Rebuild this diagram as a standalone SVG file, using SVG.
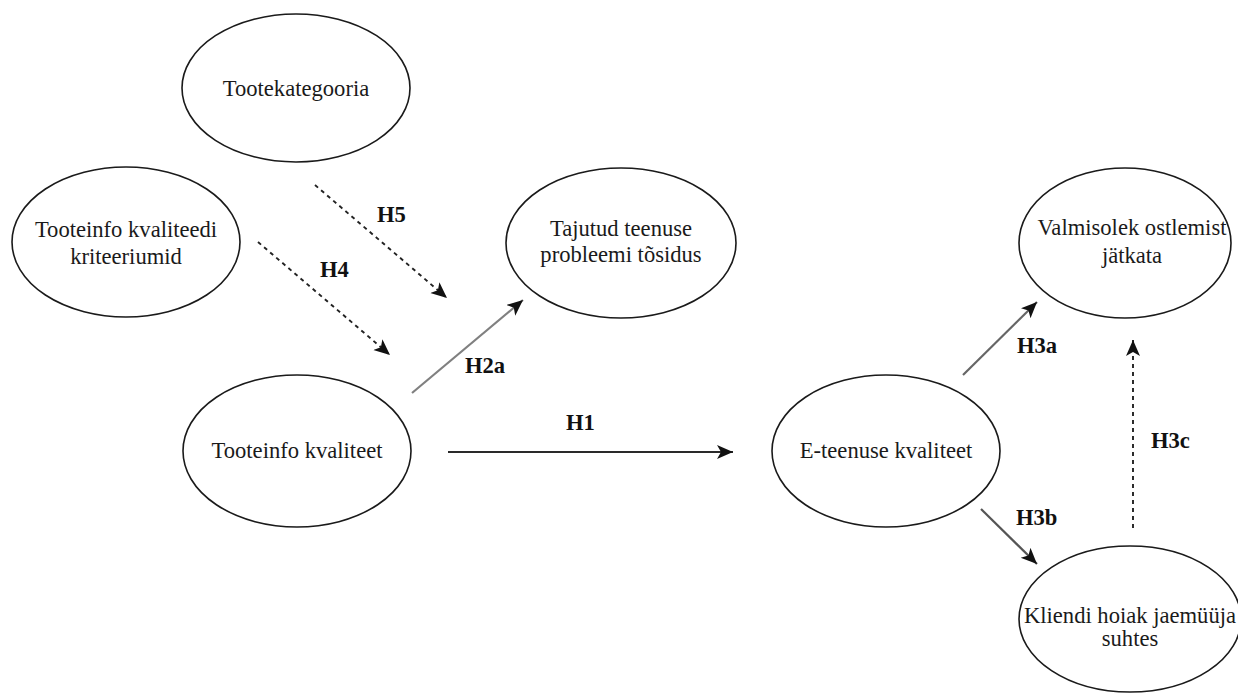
<svg xmlns="http://www.w3.org/2000/svg" width="1238" height="693" viewBox="0 0 1238 693">
<style>
.node ellipse{fill:#fff;stroke:#1a1a1a;stroke-width:1.6}
.node text{font-family:"Liberation Serif","Times New Roman",serif;font-size:22.6px;fill:#1a1a1a;text-anchor:middle}
.lbl{font-family:"Liberation Serif","Times New Roman",serif;font-size:22.6px;font-weight:bold;fill:#111}
.solid{fill:none;stroke-width:2.2}
.dash{fill:none;stroke:#222;stroke-width:1.9;stroke-dasharray:4 4}
</style>
<defs>
<marker id="arr" markerUnits="userSpaceOnUse" markerWidth="18" markerHeight="16" refX="16" refY="7" orient="auto">
<path d="M0,0 L16,7 L0,14 L4,7 z" fill="#111"/>
</marker>
</defs>
<rect width="1238" height="693" fill="#fff"/>
<g id="connectors">
<line class="dash" x1="315" y1="185" x2="447" y2="298" marker-end="url(#arr)"/>
<line class="dash" x1="258" y1="242" x2="390" y2="355" marker-end="url(#arr)"/>
<line class="solid" stroke="#808080" x1="412" y1="393" x2="523" y2="300" marker-end="url(#arr)"/>
<line class="solid" stroke="#2a2a2a" x1="448" y1="452" x2="733" y2="452" marker-end="url(#arr)"/>
<line class="solid" stroke="#666" x1="963" y1="375" x2="1037" y2="302" marker-end="url(#arr)"/>
<line class="solid" stroke="#555" x1="981" y1="509" x2="1037" y2="564" marker-end="url(#arr)"/>
<line class="dash" x1="1133" y1="528" x2="1133" y2="340" marker-end="url(#arr)"/>
<text class="lbl" x="377" y="222">H5</text>
<text class="lbl" x="320" y="277">H4</text>
<text class="lbl" x="465" y="373">H2a</text>
<text class="lbl" x="566" y="430">H1</text>
<text class="lbl" x="1017" y="353">H3a</text>
<text class="lbl" x="1151" y="448">H3c</text>
<text class="lbl" x="1016" y="525">H3b</text>
</g>
<g id="n-tootekategooria" class="node">
<ellipse cx="296" cy="88" rx="114" ry="74"/>
<text x="296" y="96">Tootekategooria</text>
</g>
<g id="n-kriteeriumid" class="node">
<ellipse cx="126" cy="242" rx="114" ry="75"/>
<text x="126" y="237">Tooteinfo kvaliteedi</text>
<text x="126" y="264">kriteeriumid</text>
</g>
<g id="n-tajutud" class="node">
<ellipse cx="621" cy="243" rx="115" ry="75"/>
<text x="621" y="236">Tajutud teenuse</text>
<text x="621" y="262">probleemi tõsidus</text>
</g>
<g id="n-tooteinfo" class="node">
<ellipse cx="297" cy="451" rx="114" ry="76"/>
<text x="297" y="458">Tooteinfo kvaliteet</text>
</g>
<g id="n-eteenus" class="node">
<ellipse cx="886" cy="451" rx="114" ry="76"/>
<text x="886" y="458">E-teenuse kvaliteet</text>
</g>
<g id="n-valmisolek" class="node">
<ellipse cx="1125" cy="243" rx="106" ry="75"/>
<text x="1132" y="235">Valmisolek ostlemist</text>
<text x="1132" y="263">jätkata</text>
</g>
<g id="n-kliendi" class="node">
<ellipse cx="1130" cy="619" rx="111" ry="73"/>
<text x="1130" y="623">Kliendi hoiak jaemüüja</text>
<text x="1130" y="646">suhtes</text>
</g>
</svg>
